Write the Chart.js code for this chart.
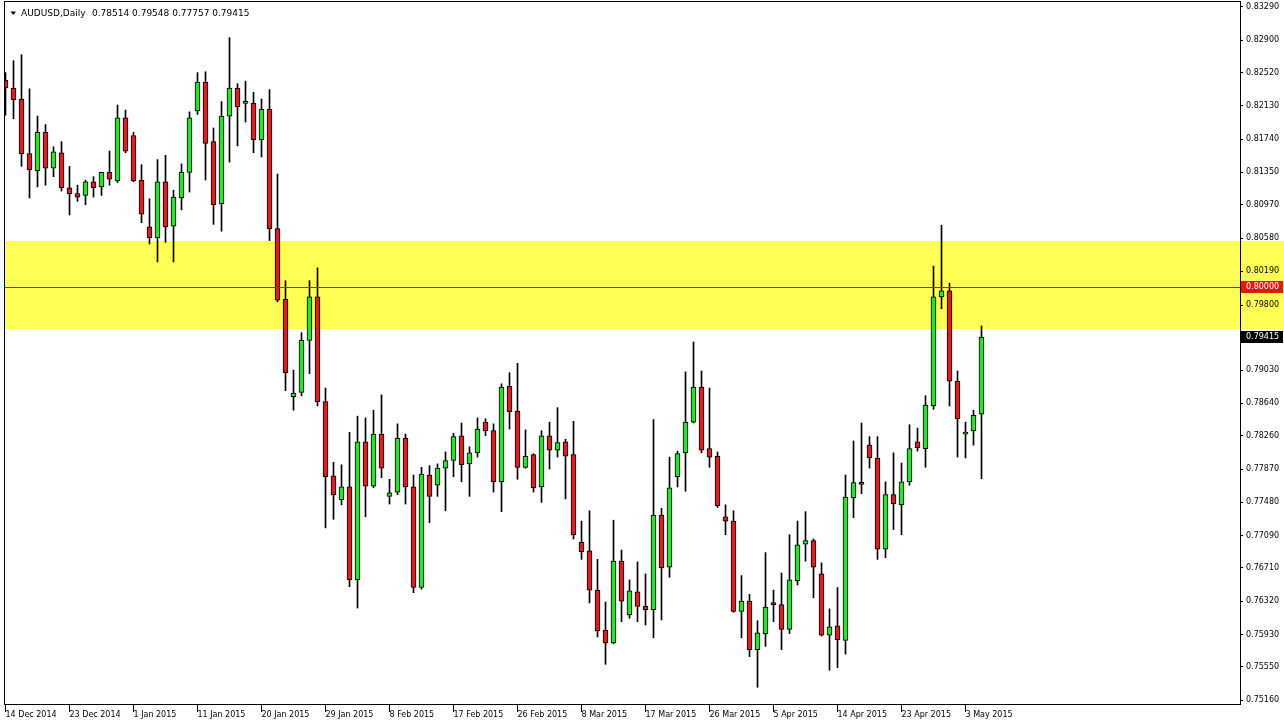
<!DOCTYPE html>
<html>
<head>
<meta charset="utf-8">
<script src="https://cdn.jsdelivr.net/npm/chart.js@4.4.0/dist/chart.umd.min.js"></script>
<style>
html, body { margin: 0; padding: 0; background: #fff; }
canvas { display: block; }
</style>
</head>
<body>
<canvas id="chart" width="1284" height="724"></canvas>
<script>
"use strict"

// AUDUSD daily candles (one value per bar)
const opens = [
  0.8243, 0.8234, 0.8221, 0.8157, 0.8137, 0.8182, 0.8140, 0.8158, 0.8117, 0.8110,
  0.8108, 0.8124, 0.8118, 0.8135, 0.8125, 0.8199, 0.8178, 0.8126, 0.8071, 0.8058,
  0.8124, 0.8072, 0.8105, 0.8135, 0.8207, 0.8241, 0.8171, 0.8098, 0.8201, 0.8234,
  0.8216, 0.8216, 0.8173, 0.8209, 0.8069, 0.7986, 0.7872, 0.7877, 0.7938, 0.7989,
  0.7866, 0.7779, 0.7751, 0.7766, 0.7657, 0.7819, 0.7767, 0.7828, 0.7755, 0.7760,
  0.7823, 0.7766, 0.7648, 0.7780, 0.7768, 0.7788, 0.7797, 0.7826, 0.7793, 0.7806,
  0.7842, 0.7832, 0.7772, 0.7884, 0.7855, 0.7789, 0.7804, 0.7766, 0.7826, 0.7809,
  0.7819, 0.7804, 0.7701, 0.7691, 0.7645, 0.7598, 0.7583, 0.7679, 0.7616, 0.7643,
  0.7626, 0.7622, 0.7733, 0.7672, 0.7778, 0.7806, 0.7842, 0.7883, 0.7811, 0.7802,
  0.7731, 0.7726, 0.7620, 0.7632, 0.7575, 0.7594, 0.7630, 0.7628, 0.7599, 0.7656,
  0.7699, 0.7703, 0.7664, 0.7592, 0.7603, 0.7586, 0.7753, 0.7770, 0.7815, 0.7800,
  0.7693, 0.7757, 0.7745, 0.7772, 0.7819, 0.7811, 0.7861, 0.7989, 0.7996, 0.7890,
  0.7828, 0.7832, 0.78514
];
const highs = [
  0.8252, 0.8266, 0.8273, 0.8233, 0.8201, 0.8191, 0.8165, 0.8171, 0.8142, 0.8120,
  0.8126, 0.8130, 0.8135, 0.8160, 0.8214, 0.8208, 0.8182, 0.8144, 0.8104, 0.8150,
  0.8155, 0.8114, 0.8145, 0.8206, 0.8252, 0.8253, 0.8187, 0.8218, 0.8293, 0.8239,
  0.8242, 0.8229, 0.8221, 0.8232, 0.8133, 0.8008, 0.7903, 0.7947, 0.8008, 0.8023,
  0.7882, 0.7795, 0.7792, 0.7830, 0.7849, 0.7847, 0.7856, 0.7874, 0.7775, 0.7840,
  0.7828, 0.7780, 0.7789, 0.7791, 0.7793, 0.7807, 0.7829, 0.7841, 0.7813, 0.7847,
  0.7846, 0.7840, 0.7887, 0.7900, 0.7911, 0.7833, 0.7805, 0.7832, 0.7842, 0.7859,
  0.7822, 0.7843, 0.7726, 0.7738, 0.7681, 0.7631, 0.7727, 0.7692, 0.7657, 0.7678,
  0.7664, 0.7845, 0.7741, 0.7801, 0.7808, 0.7901, 0.7936, 0.7902, 0.7882, 0.7807,
  0.7745, 0.7738, 0.7662, 0.7640, 0.7609, 0.7689, 0.7645, 0.7665, 0.7710, 0.7726,
  0.7737, 0.7705, 0.7677, 0.7623, 0.7648, 0.7780, 0.7820, 0.7841, 0.7825, 0.7825,
  0.7772, 0.7806, 0.7794, 0.7839, 0.7835, 0.7873, 0.8025, 0.8073, 0.8005, 0.7902,
  0.7842, 0.7856, 0.79548
];
const lows = [
  0.8202, 0.8198, 0.8142, 0.8105, 0.8118, 0.8120, 0.8130, 0.8113, 0.8085, 0.8101,
  0.8097, 0.8106, 0.8108, 0.8120, 0.8123, 0.8158, 0.8124, 0.8076, 0.8051, 0.8030,
  0.8053, 0.8030, 0.8091, 0.8112, 0.8203, 0.8126, 0.8074, 0.8066, 0.8147, 0.8166,
  0.8194, 0.8158, 0.8153, 0.8055, 0.7983, 0.7879, 0.7856, 0.7873, 0.7899, 0.7861,
  0.7718, 0.7728, 0.7745, 0.7649, 0.7624, 0.7731, 0.7765, 0.7777, 0.7746, 0.7757,
  0.7746, 0.7642, 0.7646, 0.7724, 0.7755, 0.7738, 0.7778, 0.7772, 0.7755, 0.7801,
  0.7826, 0.7760, 0.7737, 0.7834, 0.7775, 0.7788, 0.7760, 0.7748, 0.7787, 0.7801,
  0.7752, 0.7705, 0.7681, 0.7630, 0.7590, 0.7558, 0.7582, 0.7608, 0.7612, 0.7608,
  0.7604, 0.7589, 0.7610, 0.7660, 0.7766, 0.7761, 0.7841, 0.7806, 0.7789, 0.7742,
  0.7710, 0.7619, 0.7589, 0.7567, 0.7531, 0.7579, 0.7608, 0.7575, 0.7594, 0.7651,
  0.7679, 0.7636, 0.7591, 0.7551, 0.7554, 0.7570, 0.7730, 0.7758, 0.7788, 0.7681,
  0.7683, 0.7716, 0.7710, 0.7768, 0.7808, 0.7789, 0.7857, 0.7975, 0.7861, 0.7801,
  0.7800, 0.7815, 0.77757
];
const closes = [
  0.8234, 0.8220, 0.8157, 0.8138, 0.8182, 0.8140, 0.8159, 0.8117, 0.8110, 0.8106,
  0.8124, 0.8117, 0.8135, 0.8127, 0.8199, 0.8160, 0.8125, 0.8086, 0.8058, 0.8124,
  0.8071, 0.8106, 0.8135, 0.8199, 0.8241, 0.8169, 0.8097, 0.8201, 0.8234, 0.8212,
  0.8217, 0.8173, 0.8209, 0.8069, 0.7985, 0.7900, 0.7876, 0.7938, 0.7989, 0.7866,
  0.7778, 0.7757, 0.7766, 0.7657, 0.7819, 0.7767, 0.7828, 0.7788, 0.7759, 0.7823,
  0.7766, 0.7648, 0.7781, 0.7755, 0.7788, 0.7797, 0.7825, 0.7792, 0.7806, 0.7834,
  0.7832, 0.7772, 0.7883, 0.7854, 0.7789, 0.7802, 0.7765, 0.7826, 0.7809, 0.7818,
  0.7802, 0.7710, 0.7690, 0.7645, 0.7597, 0.7583, 0.7679, 0.7632, 0.7644, 0.7626,
  0.7622, 0.7733, 0.7671, 0.7765, 0.7805, 0.7842, 0.7883, 0.7809, 0.7801, 0.7744,
  0.7726, 0.7620, 0.7632, 0.7575, 0.7595, 0.7625, 0.7628, 0.7599, 0.7657, 0.7698,
  0.7703, 0.7672, 0.7592, 0.7602, 0.7587, 0.7754, 0.7771, 0.7769, 0.7800, 0.7693,
  0.7757, 0.7746, 0.7772, 0.7811, 0.7812, 0.7862, 0.7989, 0.7996, 0.7890, 0.7846,
  0.7830, 0.7850, 0.79415
];

// one date label every 8 bars
const dateTicks = ['14 Dec 2014', '23 Dec 2014', '1 Jan 2015', '11 Jan 2015', '20 Jan 2015',
  '29 Jan 2015', '8 Feb 2015', '17 Feb 2015', '26 Feb 2015', '8 Mar 2015', '17 Mar 2015',
  '26 Mar 2015', '5 Apr 2015', '14 Apr 2015', '23 Apr 2015', '3 May 2015'];
const priceTicks = [0.83290, 0.82900, 0.82520, 0.82130, 0.81740, 0.81350, 0.80970, 0.80580,
  0.80190, 0.79800, 0.79030, 0.78640, 0.78260, 0.77870, 0.77480, 0.77090, 0.76710,
  0.76320, 0.75930, 0.75550, 0.75160];

// resistance zone and the 0.8 level
const zoneTop = 0.8055;
const zoneBottom = 0.7951;
const levelLine = 0.80000;

const GREEN = '#2fe02f';
const RED = '#d91f1f';

let bodies = [];
let wicks = [];
let bodyColors = [];
for (let i = 0; i < opens.length; i++) {
    bodies.push({x: i, y: [opens[i], closes[i]]});
    wicks.push({x: i, y: [lows[i], highs[i]]});
    bodyColors.push(closes[i] >= opens[i] ? GREEN : RED);
}

// zone, level line, price boxes on the axis, header text and the frame
const overlay = {
    id: 'overlay',
    beforeDatasetsDraw(chart) {
        const {ctx, chartArea: a, scales: {y}} = chart;
        const t = Math.round(y.getPixelForValue(zoneTop));
        const b = Math.round(y.getPixelForValue(zoneBottom));
        ctx.save();
        ctx.fillStyle = '#ffff55';
        ctx.fillRect(a.left, t, chart.width - a.left, b - t);
        // axis labels were already drawn, redraw the ones inside the zone on top of it
        ctx.font = '8px "DejaVu Sans"';
        ctx.fillStyle = '#000';
        ctx.textBaseline = 'middle';
        priceTicks.forEach(v => {
            if (v < zoneTop && v > zoneBottom) {
                const py = y.getPixelForValue(v);
                ctx.fillText(v.toFixed(5), a.right + 6, py);
                ctx.fillRect(a.right, Math.round(py), 3, 1);
            }
        });
        ctx.restore();
    },
    afterDatasetsDraw(chart) {
        const {ctx, chartArea: a, scales: {y}} = chart;
        ctx.save();
        ctx.fillStyle = 'rgb(255, 0, 0)';
        ctx.fillRect(a.left, Math.round(y.getPixelForValue(levelLine)), a.right - a.left, 1);
        ctx.restore();
    },
    afterDraw(chart) {
        const {ctx, chartArea: a, scales: {y}} = chart;
        ctx.save();
        // frame
        ctx.strokeStyle = '#000';
        ctx.lineWidth = 1;
        ctx.strokeRect(a.left + 0.5, a.top + 0.5, a.right - a.left, a.bottom - a.top);

        // price boxes
        ctx.font = '8px "DejaVu Sans"';
        ctx.textBaseline = 'middle';
        const boxes = [[levelLine, '#e8160c'], [closes[closes.length - 1], '#000']];
        boxes.forEach(([v, col]) => {
            const py = Math.round(y.getPixelForValue(v));
            ctx.fillStyle = col;
            ctx.fillRect(a.right + 1, py - 6, 42, 12);
            ctx.fillStyle = '#fff';
            ctx.fillText(v.toFixed(5), a.right + 6, py);
        });

        // header
        ctx.fillStyle = '#000';
        ctx.beginPath();
        ctx.moveTo(10.5, 11.5);
        ctx.lineTo(16, 11.5);
        ctx.lineTo(13.25, 15);
        ctx.closePath();
        ctx.fill();
        ctx.font = '9px "DejaVu Sans"';
        ctx.textBaseline = 'alphabetic';
        ctx.fillText('AUDUSD,Daily', 21, 16);
        ctx.fillText([opens, highs, lows, closes].map(s => s[s.length - 1].toFixed(5)).join(' '), 92, 16);
        ctx.restore();
    }
};

Chart.defaults.font.family = '"DejaVu Sans"';
Chart.defaults.font.size = 8;
Chart.defaults.color = '#000';

const ctx = document.getElementById('chart').getContext('2d');

new Chart(ctx, {
    type: 'bar',
    data: {
        datasets: [{
            label: 'body',
            data: bodies,
            backgroundColor: bodyColors,
            borderColor: '#000',
            borderWidth: 1,
            borderSkipped: false,
            barThickness: 5,
            minBarLength: 2,
            order: 0
        }, {
            label: 'wick',
            data: wicks,
            backgroundColor: '#000',
            borderWidth: 0,
            barThickness: 1,
            order: 1
        }]
    },
    options: {
        responsive: false,
        animation: false,
        events: [],
        layout: {padding: {left: 4, top: 1, right: 0, bottom: 0}},
        datasets: {bar: {grouped: false}},
        plugins: {
            legend: {display: false},
            tooltip: {enabled: false}
        },
        scales: {
            x: {
                type: 'linear',
                position: 'bottom',
                offset: false,
                min: -0.1875,
                max: 154.3125,
                afterBuildTicks: s => { s.ticks = dateTicks.map((d, i) => ({value: i * 8})); },
                afterFit: s => { s.height = 20; s.paddingLeft = 0; s.paddingRight = 0; },
                grid: {drawOnChartArea: false, offset: false, color: '#000', tickLength: 8},
                border: {display: true, color: '#000'},
                ticks: {
                    autoSkip: false,
                    maxRotation: 0,
                    align: 'start',
                    padding: -2,
                    callback: v => dateTicks[v / 8]
                }
            },
            y: {
                position: 'right',
                min: 0.75114,
                max: 0.83360,
                afterBuildTicks: s => { s.ticks = priceTicks.map(v => ({value: v})); },
                afterFit: s => { s.width = 44; s.paddingTop = 0; s.paddingBottom = 0; },
                grid: {drawOnChartArea: false, color: '#000', tickLength: 3},
                border: {display: true, color: '#000'},
                ticks: {
                    autoSkip: false,
                    padding: 3,
                    callback: v => v.toFixed(5)
                }
            }
        }
    },
    plugins: [overlay]
});
</script>
</body>
</html>
